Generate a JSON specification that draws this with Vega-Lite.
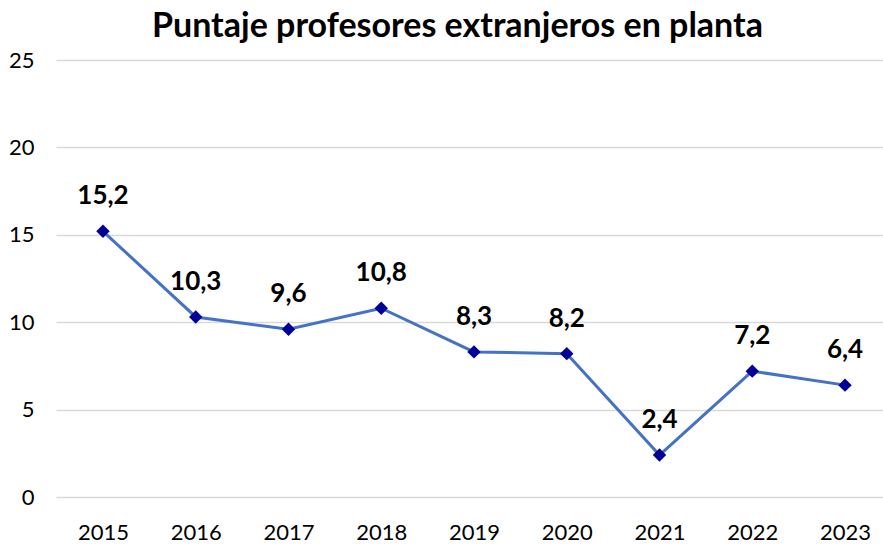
{
  "$schema": "https://vega.github.io/schema/vega-lite/v6.json",
  "autosize": "none",
  "width": 827,
  "height": 437,
  "padding": {"left": 56, "top": 60, "right": 0, "bottom": 49},
  "background": "white",
  "title": {
    "text": "Puntaje profesores extranjeros en planta",
    "font": "Lato",
    "fontSize": 34,
    "fontWeight": "bold",
    "color": "#000000",
    "anchor": "middle",
    "frame": "group",
    "baseline": "alphabetic",
    "offset": -22,
    "dx": -12
  },
  "data": {
    "values": [
      {"year": "2015", "value": 15.2, "label": "15,2"},
      {"year": "2016", "value": 10.3, "label": "10,3"},
      {"year": "2017", "value": 9.6, "label": "9,6"},
      {"year": "2018", "value": 10.8, "label": "10,8"},
      {"year": "2019", "value": 8.3, "label": "8,3"},
      {"year": "2020", "value": 8.2, "label": "8,2"},
      {"year": "2021", "value": 2.4, "label": "2,4"},
      {"year": "2022", "value": 7.2, "label": "7,2"},
      {"year": "2023", "value": 6.4, "label": "6,4"}
    ]
  },
  "encoding": {
    "x": {
      "field": "year",
      "type": "ordinal",
      "scale": {"type": "point", "padding": 0.458, "align": 0.553},
      "axis": {
        "title": null,
        "labelAngle": 0,
        "labelFont": "Lato",
        "labelFontSize": 22,
        "labelColor": "#000000",
        "labelPadding": 25,
        "ticks": false,
        "domain": false,
        "grid": false
      }
    },
    "y": {
      "field": "value",
      "type": "quantitative",
      "scale": {"domain": [0, 25], "nice": false},
      "axis": {
        "title": null,
        "values": [0, 5, 10, 15, 20, 25],
        "labelFont": "Lato",
        "labelFontSize": 22,
        "labelColor": "#000000",
        "labelPadding": 22,
        "ticks": false,
        "domain": false,
        "grid": true,
        "gridColor": "#d9d9d9",
        "gridWidth": 1.5
      }
    }
  },
  "layer": [
    {
      "mark": {"type": "line", "color": "#4472C4", "strokeWidth": 3}
    },
    {
      "mark": {"type": "point", "shape": "diamond", "filled": true, "color": "#000099", "size": 180, "opacity": 1}
    },
    {
      "mark": {"type": "text", "font": "Lato", "fontSize": 26, "fontWeight": "bold", "color": "#000000", "baseline": "alphabetic", "dy": -27},
      "encoding": {"text": {"field": "label"}}
    }
  ],
  "config": {"view": {"stroke": null}}
}
